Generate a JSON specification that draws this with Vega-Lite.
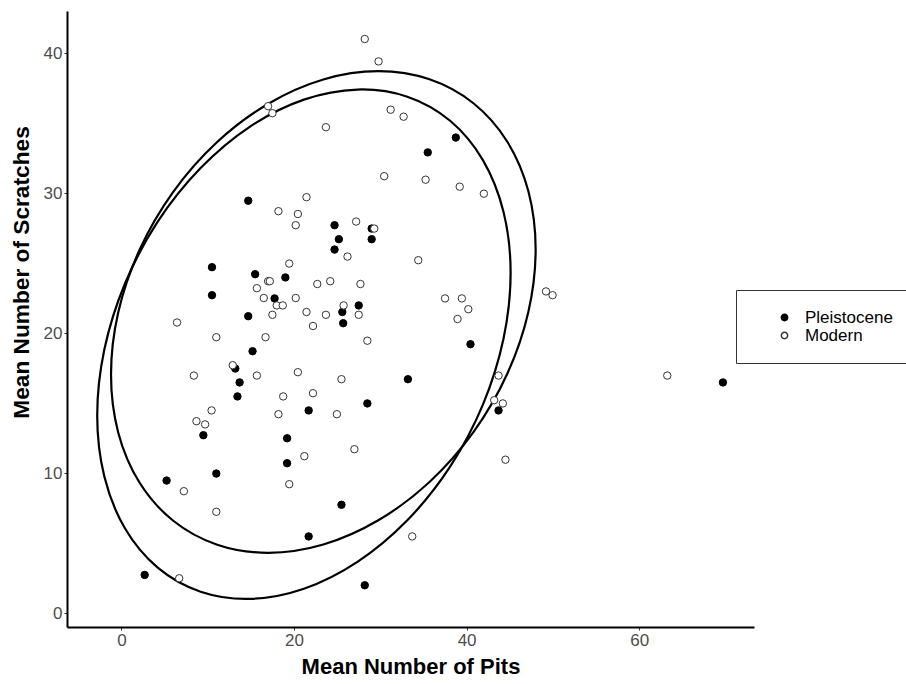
{
  "$schema": "https://vega.github.io/schema/vega-lite/v6.json",
  "width": 687,
  "height": 616,
  "autosize": {"type": "none"},
  "padding": {"left": 67, "top": 11, "right": 152, "bottom": 57},
  "background": "white",
  "config": {
    "view": {"stroke": null},
    "axis": {
      "domainColor": "black", "domainWidth": 2, "tickColor": "#333333", "tickWidth": 1, "tickSize": 3,
      "labelColor": "#4d4d4d", "labelFontSize": 17, "labelFont": "Liberation Sans",
      "titleFont": "Liberation Sans", "titleFontSize": 22, "titleFontWeight": "bold", "titleColor": "black",
      "grid": false, "labelPadding": 2
    },
    "legend": {
      "orient": "none", "legendX": 669, "legendY": 279, "padding": 19,
      "strokeColor": "#333333", "fillColor": "white",
      "labelFontSize": 17, "labelFont": "Liberation Sans", "labelColor": "black",
      "symbolSize": 40, "rowPadding": 0, "labelOffset": 12, "symbolOffset": 21
    }
  },
  "datasets": {
    "pts": [
      {"group": "Pleistocene", "pits": 14.7, "scr": 29.45},
      {"group": "Pleistocene", "pits": 24.7, "scr": 27.7},
      {"group": "Pleistocene", "pits": 29.0, "scr": 27.46},
      {"group": "Pleistocene", "pits": 25.2, "scr": 26.7},
      {"group": "Pleistocene", "pits": 29.0, "scr": 26.7},
      {"group": "Pleistocene", "pits": 24.7, "scr": 25.96},
      {"group": "Pleistocene", "pits": 10.5, "scr": 24.7},
      {"group": "Pleistocene", "pits": 15.5, "scr": 24.2},
      {"group": "Pleistocene", "pits": 19.0, "scr": 23.97},
      {"group": "Pleistocene", "pits": 10.5, "scr": 22.7},
      {"group": "Pleistocene", "pits": 17.75, "scr": 22.47},
      {"group": "Pleistocene", "pits": 14.7, "scr": 21.2},
      {"group": "Pleistocene", "pits": 27.5, "scr": 21.97},
      {"group": "Pleistocene", "pits": 25.6, "scr": 21.5},
      {"group": "Pleistocene", "pits": 25.7, "scr": 20.7},
      {"group": "Pleistocene", "pits": 38.75, "scr": 33.96},
      {"group": "Pleistocene", "pits": 35.5, "scr": 32.9},
      {"group": "Pleistocene", "pits": 40.45, "scr": 19.2},
      {"group": "Pleistocene", "pits": 33.2, "scr": 16.7},
      {"group": "Pleistocene", "pits": 43.7, "scr": 14.47},
      {"group": "Pleistocene", "pits": 69.7, "scr": 16.47},
      {"group": "Pleistocene", "pits": 15.2, "scr": 18.7},
      {"group": "Pleistocene", "pits": 13.2, "scr": 17.46},
      {"group": "Pleistocene", "pits": 13.7, "scr": 16.47},
      {"group": "Pleistocene", "pits": 13.45, "scr": 15.47},
      {"group": "Pleistocene", "pits": 21.7, "scr": 14.47},
      {"group": "Pleistocene", "pits": 28.5, "scr": 14.97},
      {"group": "Pleistocene", "pits": 9.5, "scr": 12.7},
      {"group": "Pleistocene", "pits": 19.2, "scr": 12.48},
      {"group": "Pleistocene", "pits": 19.2, "scr": 10.7},
      {"group": "Pleistocene", "pits": 11.0, "scr": 9.96},
      {"group": "Pleistocene", "pits": 5.24, "scr": 9.46},
      {"group": "Pleistocene", "pits": 25.5, "scr": 7.73},
      {"group": "Pleistocene", "pits": 21.7, "scr": 5.47},
      {"group": "Pleistocene", "pits": 2.7, "scr": 2.72},
      {"group": "Pleistocene", "pits": 28.2, "scr": 1.98},
      {"group": "Modern", "pits": 28.2, "scr": 41.0},
      {"group": "Modern", "pits": 29.8, "scr": 39.4},
      {"group": "Modern", "pits": 17.0, "scr": 36.2},
      {"group": "Modern", "pits": 17.5, "scr": 35.7},
      {"group": "Modern", "pits": 31.2, "scr": 35.95},
      {"group": "Modern", "pits": 32.7, "scr": 35.45},
      {"group": "Modern", "pits": 23.7, "scr": 34.7},
      {"group": "Modern", "pits": 30.45, "scr": 31.2},
      {"group": "Modern", "pits": 21.45, "scr": 29.7},
      {"group": "Modern", "pits": 18.2, "scr": 28.7},
      {"group": "Modern", "pits": 20.45, "scr": 28.5},
      {"group": "Modern", "pits": 20.2, "scr": 27.7},
      {"group": "Modern", "pits": 27.2, "scr": 27.96},
      {"group": "Modern", "pits": 29.3, "scr": 27.46},
      {"group": "Modern", "pits": 26.2, "scr": 25.46},
      {"group": "Modern", "pits": 34.4, "scr": 25.2},
      {"group": "Modern", "pits": 19.45, "scr": 24.96},
      {"group": "Modern", "pits": 17.0, "scr": 23.7},
      {"group": "Modern", "pits": 17.2, "scr": 23.7},
      {"group": "Modern", "pits": 15.7, "scr": 23.2},
      {"group": "Modern", "pits": 22.7, "scr": 23.5},
      {"group": "Modern", "pits": 24.2, "scr": 23.7},
      {"group": "Modern", "pits": 27.7, "scr": 23.5},
      {"group": "Modern", "pits": 16.5, "scr": 22.5},
      {"group": "Modern", "pits": 20.2, "scr": 22.5},
      {"group": "Modern", "pits": 18.0, "scr": 21.97},
      {"group": "Modern", "pits": 18.7, "scr": 21.97},
      {"group": "Modern", "pits": 25.75, "scr": 21.97},
      {"group": "Modern", "pits": 17.5, "scr": 21.3},
      {"group": "Modern", "pits": 21.45, "scr": 21.5},
      {"group": "Modern", "pits": 23.7, "scr": 21.3},
      {"group": "Modern", "pits": 27.5, "scr": 21.3},
      {"group": "Modern", "pits": 6.45, "scr": 20.75},
      {"group": "Modern", "pits": 35.25, "scr": 30.95},
      {"group": "Modern", "pits": 39.2, "scr": 30.45},
      {"group": "Modern", "pits": 42.0, "scr": 29.95},
      {"group": "Modern", "pits": 49.2, "scr": 22.97},
      {"group": "Modern", "pits": 49.96, "scr": 22.7},
      {"group": "Modern", "pits": 37.5, "scr": 22.47},
      {"group": "Modern", "pits": 39.45, "scr": 22.47},
      {"group": "Modern", "pits": 40.2, "scr": 21.7},
      {"group": "Modern", "pits": 38.95, "scr": 21.0},
      {"group": "Modern", "pits": 43.7, "scr": 16.96},
      {"group": "Modern", "pits": 43.2, "scr": 15.2},
      {"group": "Modern", "pits": 44.2, "scr": 14.97},
      {"group": "Modern", "pits": 44.5, "scr": 10.95},
      {"group": "Modern", "pits": 33.7, "scr": 5.47},
      {"group": "Modern", "pits": 63.25, "scr": 16.96},
      {"group": "Modern", "pits": 11.0, "scr": 19.7},
      {"group": "Modern", "pits": 16.7, "scr": 19.7},
      {"group": "Modern", "pits": 22.2, "scr": 20.5},
      {"group": "Modern", "pits": 28.5, "scr": 19.45},
      {"group": "Modern", "pits": 8.4, "scr": 16.96},
      {"group": "Modern", "pits": 12.9, "scr": 17.7},
      {"group": "Modern", "pits": 15.7, "scr": 16.96},
      {"group": "Modern", "pits": 20.45, "scr": 17.2},
      {"group": "Modern", "pits": 25.5, "scr": 16.7},
      {"group": "Modern", "pits": 22.2, "scr": 15.7},
      {"group": "Modern", "pits": 18.75, "scr": 15.47},
      {"group": "Modern", "pits": 10.45, "scr": 14.47},
      {"group": "Modern", "pits": 8.7, "scr": 13.7},
      {"group": "Modern", "pits": 9.7, "scr": 13.47},
      {"group": "Modern", "pits": 18.2, "scr": 14.2},
      {"group": "Modern", "pits": 24.97, "scr": 14.2},
      {"group": "Modern", "pits": 27.0, "scr": 11.7},
      {"group": "Modern", "pits": 21.2, "scr": 11.2},
      {"group": "Modern", "pits": 19.45, "scr": 9.2},
      {"group": "Modern", "pits": 7.24, "scr": 8.7},
      {"group": "Modern", "pits": 11.0, "scr": 7.23},
      {"group": "Modern", "pits": 6.7, "scr": 2.48}
    ],
    "ell": [
      {"e": "A", "i": 0, "x": 48.0, "y": 25.97},
      {"e": "A", "i": 1, "x": 47.16, "y": 30.12},
      {"e": "A", "i": 2, "x": 44.7, "y": 33.68},
      {"e": "A", "i": 3, "x": 40.79, "y": 36.41},
      {"e": "A", "i": 4, "x": 35.7, "y": 38.12},
      {"e": "A", "i": 5, "x": 29.77, "y": 38.7},
      {"e": "A", "i": 6, "x": 23.4, "y": 38.11},
      {"e": "A", "i": 7, "x": 17.03, "y": 36.38},
      {"e": "A", "i": 8, "x": 11.1, "y": 33.64},
      {"e": "A", "i": 9, "x": 6.01, "y": 30.08},
      {"e": "A", "i": 10, "x": 2.1, "y": 25.93},
      {"e": "A", "i": 11, "x": -0.36, "y": 21.48},
      {"e": "A", "i": 12, "x": -1.2, "y": 17.03},
      {"e": "A", "i": 13, "x": -0.36, "y": 12.88},
      {"e": "A", "i": 14, "x": 2.1, "y": 9.32},
      {"e": "A", "i": 15, "x": 6.01, "y": 6.59},
      {"e": "A", "i": 16, "x": 11.1, "y": 4.88},
      {"e": "A", "i": 17, "x": 17.03, "y": 4.3},
      {"e": "A", "i": 18, "x": 23.4, "y": 4.89},
      {"e": "A", "i": 19, "x": 29.77, "y": 6.62},
      {"e": "A", "i": 20, "x": 35.7, "y": 9.36},
      {"e": "A", "i": 21, "x": 40.79, "y": 12.92},
      {"e": "A", "i": 22, "x": 44.7, "y": 17.07},
      {"e": "A", "i": 23, "x": 47.16, "y": 21.52},
      {"e": "B", "i": 0, "x": 45.1, "y": 24.3},
      {"e": "B", "i": 1, "x": 44.28, "y": 28.64},
      {"e": "B", "i": 2, "x": 41.89, "y": 32.35},
      {"e": "B", "i": 3, "x": 38.09, "y": 35.16},
      {"e": "B", "i": 4, "x": 33.13, "y": 36.88},
      {"e": "B", "i": 5, "x": 27.35, "y": 37.39},
      {"e": "B", "i": 6, "x": 21.15, "y": 36.67},
      {"e": "B", "i": 7, "x": 14.95, "y": 34.76},
      {"e": "B", "i": 8, "x": 9.18, "y": 31.78},
      {"e": "B", "i": 9, "x": 4.21, "y": 27.95},
      {"e": "B", "i": 10, "x": 0.41, "y": 23.52},
      {"e": "B", "i": 11, "x": -1.98, "y": 18.8},
      {"e": "B", "i": 12, "x": -2.8, "y": 14.1},
      {"e": "B", "i": 13, "x": -1.98, "y": 9.76},
      {"e": "B", "i": 14, "x": 0.41, "y": 6.05},
      {"e": "B", "i": 15, "x": 4.21, "y": 3.24},
      {"e": "B", "i": 16, "x": 9.18, "y": 1.52},
      {"e": "B", "i": 17, "x": 14.95, "y": 1.01},
      {"e": "B", "i": 18, "x": 21.15, "y": 1.73},
      {"e": "B", "i": 19, "x": 27.35, "y": 3.65},
      {"e": "B", "i": 20, "x": 33.13, "y": 6.62},
      {"e": "B", "i": 21, "x": 38.09, "y": 10.45},
      {"e": "B", "i": 22, "x": 41.89, "y": 14.88},
      {"e": "B", "i": 23, "x": 44.28, "y": 19.6}
    ]
  },
  "layer": [
    {
      "data": {"name": "ell"},
      "mark": {"type": "line", "interpolate": "cardinal-closed", "color": "black", "strokeWidth": 2.2},
      "encoding": {
        "x": {"field": "x", "type": "quantitative", "scale": {"domain": [-6.3, 73.3], "nice": false, "zero": false},
              "axis": {"values": [0, 20, 40, 60], "title": "Mean Number of Pits", "titlePadding": 8}},
        "y": {"field": "y", "type": "quantitative", "scale": {"domain": [-1, 43], "nice": false, "zero": false},
              "axis": {"values": [0, 10, 20, 30, 40], "title": "Mean Number of Scratches", "titlePadding": 10, "titleFontSize": 22.7, "titleY": 261}},
        "detail": {"field": "e"},
        "order": {"field": "i", "type": "quantitative"}
      }
    },
    {
      "data": {"name": "pts"},
      "mark": {"type": "point", "shape": "circle", "size": 55, "strokeWidth": 1, "opacity": 1},
      "encoding": {
        "x": {"field": "pits", "type": "quantitative"},
        "y": {"field": "scr", "type": "quantitative"},
        "fill": {"field": "group", "type": "nominal", "scale": {"domain": ["Pleistocene", "Modern"], "range": ["black", "white"]}, "legend": {"title": null}},
        "stroke": {"field": "group", "type": "nominal", "scale": {"domain": ["Pleistocene", "Modern"], "range": ["black", "#333333"]}, "legend": {"title": null}}
      }
    }
  ]
}
